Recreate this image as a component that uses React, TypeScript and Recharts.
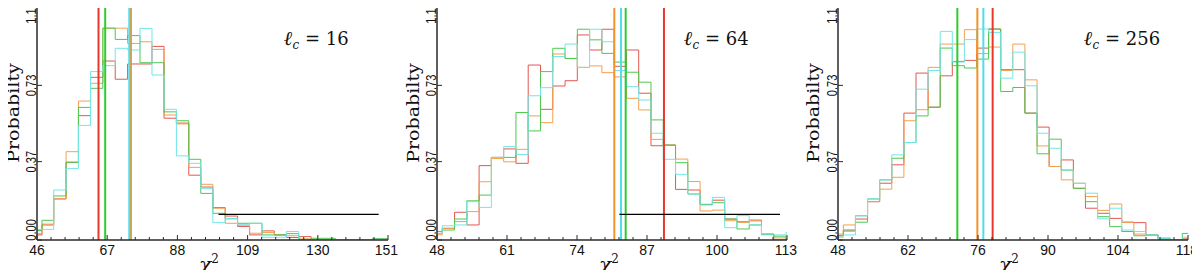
import React from "react";
import {
  ComposedChart,
  Line,
  XAxis,
  YAxis,
  ReferenceLine,
} from "recharts";

// bin edges (chi^2) and normalised counts per run
const EDGES_16 = [46, 47.5, 51.0, 54.7, 58.4, 62.0, 65.7, 69.4, 73.1, 76.8, 80.4, 84.0, 87.7, 91.4, 95.0, 98.6, 102.3, 106.0, 109.6, 113.3, 117.0, 120.6, 124.3, 128.0, 131.6, 135.3, 139.0, 142.6, 146.3, 150.0, 151];
const RED_16 = [0.024, 0.071, 0.194, 0.367, 0.587, 0.768, 0.845, 0.759, 0.831, 0.831, 0.914, 0.575, 0.552, 0.306, 0.25, 0.153, 0.113, 0.064, 0.024, 0.043, 0.024, 0.012, 0.016, 0, 0, 0, 0, 0, 0.006, 0.006];
const ORANGE_16 = [0.03, 0.075, 0.194, 0.417, 0.656, 0.74, 1.0, 1.0, 0.928, 0.936, 0.9, 0.59, 0.548, 0.343, 0.263, 0.15, 0.079, 0.07, 0.032, 0.035, 0.024, 0.02, 0.005, 0, 0, 0, 0, 0, 0.006, 0.006];
const GREEN_16 = [0.045, 0.093, 0.208, 0.367, 0.626, 0.716, 1.0, 0.947, 0.965, 0.837, 0.837, 0.605, 0.563, 0.381, 0.22, 0.126, 0.1, 0.079, 0.079, 0.024, 0.024, 0.03, 0.003, 0.008, 0.008, 0, 0, 0, 0.006, 0.006];
const CYAN_16 = [0.05, 0.05, 0.236, 0.338, 0.541, 0.795, 0.823, 0.905, 0.897, 0.999, 0.779, 0.617, 0.397, 0.362, 0.244, 0.082, 0.102, 0.072, 0.079, 0.013, 0.013, 0.04, 0, 0, 0, 0, 0, 0, 0.004, 0.004];

const EDGES_64 = [48, 48.98, 51.26, 53.54, 55.82, 58.1, 60.38, 62.66, 64.94, 67.22, 69.5, 71.78, 74.06, 76.34, 78.62, 80.9, 83.18, 85.46, 87.74, 90.02, 92.3, 94.58, 96.86, 99.14, 101.42, 103.7, 105.98, 108.26, 110.54, 112.82, 113];
const RED_64 = [0.031, 0.055, 0.131, 0.071, 0.351, 0.39, 0.43, 0.362, 0.826, 0.617, 0.727, 0.752, 0.968, 0.897, 0.995, 0.82, 0.897, 0.693, 0.445, 0.448, 0.239, 0.236, 0.168, 0.188, 0.099, 0.086, 0.094, 0.028, 0, 0];
const ORANGE_64 = [0.025, 0.055, 0.087, 0.134, 0.275, 0.385, 0.369, 0.428, 0.586, 0.554, 0.878, 0.857, 0.815, 0.822, 0.79, 0.77, 0.669, 0.614, 0.475, 0.448, 0.382, 0.276, 0.137, 0.141, 0.091, 0.083, 0.09, 0.028, 0.01, 0];
const GREEN_64 = [0.04, 0.047, 0.099, 0.185, 0.212, 0.39, 0.39, 0.602, 0.515, 0.795, 0.905, 0.857, 0.995, 0.945, 0.881, 0.84, 0.792, 0.745, 0.567, 0.448, 0.365, 0.217, 0.168, 0.176, 0.099, 0.052, 0.071, 0.025, 0.018, 0];
const CYAN_64 = [0.031, 0.067, 0.071, 0.181, 0.154, 0.39, 0.441, 0.404, 0.681, 0.719, 0.866, 0.925, 0.815, 0.995, 0.936, 0.8, 0.724, 0.661, 0.504, 0.381, 0.31, 0.217, 0.165, 0.201, 0.058, 0.115, 0.071, 0.028, 0.024, 0.036];

const EDGES_256 = [48, 49.07, 51.49, 53.91, 56.33, 58.75, 61.18, 63.6, 66.02, 68.44, 70.86, 73.28, 75.7, 78.12, 80.54, 82.96, 85.38, 87.81, 90.23, 92.65, 95.07, 97.49, 99.91, 102.33, 104.75, 107.17, 109.59, 112.02, 114.44, 116.86, 118];
const RED_256 = [0.02, 0.047, 0.099, 0.181, 0.268, 0.355, 0.599, 0.788, 0.627, 0.775, 0.843, 0.848, 0.906, 0.996, 0.804, 0.804, 0.599, 0.533, 0.347, 0.378, 0.244, 0.15, 0.126, 0.102, 0.084, 0.082, 0.024, 0.008, 0, 0.005];
const ORANGE_256 = [0.028, 0.071, 0.115, 0.181, 0.24, 0.296, 0.563, 0.615, 0.815, 0.925, 0.925, 0.993, 0.88, 0.911, 0.8, 0.925, 0.756, 0.444, 0.347, 0.284, 0.268, 0.205, 0.14, 0.17, 0.084, 0.028, 0.024, 0.003, 0, 0.005];
const GREEN_256 = [0.02, 0.042, 0.084, 0.194, 0.284, 0.386, 0.46, 0.586, 0.627, 0.906, 0.823, 0.812, 0.854, 0.996, 0.701, 0.72, 0.599, 0.407, 0.476, 0.33, 0.244, 0.181, 0.11, 0.063, 0.04, 0.02, 0.024, 0.008, 0, 0.031];
const CYAN_256 = [0.013, 0.024, 0.113, 0.194, 0.284, 0.402, 0.46, 0.712, 0.8, 0.985, 0.84, 0.946, 0.996, 0.98, 0.764, 0.887, 0.728, 0.504, 0.433, 0.331, 0.268, 0.221, 0.1, 0.15, 0.047, 0.04, 0.024, 0.008, 0, 0.013];

// mean chi^2 markers, order: red, orange, green, cyan
const MEANS_16 = [64.4, 74.1, 66.4, 73.6];
const MEANS_64 = [90.15, 80.93, 83.04, 82.17];
const MEANS_256 = [78.93, 75.87, 71.87, 77.07];

// black horizontal bar: [x start, x end, y]
const BAR_16 = [100.3, 148.2, 0.121];
const BAR_64 = [81.86, 111.7, 0.121];

const XTICKS_16 = [46, 67, 88, 109, 130, 151];
const XTICKS_64 = [48, 61, 74, 87, 100, 113];
const XTICKS_256 = [48, 62, 76, 90, 104, 118];
const YTICKS = [0, 0.37, 0.73, 1.1];

const LABELS = ["16", "64", "256"];

const HIST_COLORS = { red: "#e4574f", orange: "#f3a050", green: "#4fc84f", cyan: "#72e6e8" };
const MEAN_COLORS = ["#e8382c", "#f5922a", "#2ccc2c", "#4fdcec"];
const AXIS = "#2a2a2a";
const TICK_FONT = "'Liberation Sans', Arial, sans-serif";
const SERIF = "'DejaVu Serif', serif";

function buildRows(edges: number[], red: number[], orange: number[], green: number[], cyan: number[]) {
  return edges.map((x, i) => {
    const k = Math.min(i, red.length - 1);
    return { x, red: red[k], orange: orange[k], green: green[k], cyan: cyan[k] };
  });
}

function withMinors(majors: number[]) {
  const out: number[] = [];
  for (let i = 0; i < majors.length; i++) {
    out.push(majors[i]);
    if (i < majors.length - 1) {
      const step = (majors[i + 1] - majors[i]) / 5;
      for (let j = 1; j < 5; j++) out.push(majors[i] + step * j);
    }
  }
  return out;
}

const PANELS = [
  { rows: buildRows(EDGES_16, RED_16, ORANGE_16, GREEN_16, CYAN_16), xticks: XTICKS_16, means: MEANS_16, bar: BAR_16, label: LABELS[0], left: 7, right: 12 },
  { rows: buildRows(EDGES_64, RED_64, ORANGE_64, GREEN_64, CYAN_64), xticks: XTICKS_64, means: MEANS_64, bar: BAR_64, label: LABELS[1], left: 7, right: 13 },
  { rows: buildRows(EDGES_256, RED_256, ORANGE_256, GREEN_256, CYAN_256), xticks: XTICKS_256, means: MEANS_256, bar: null, label: LABELS[2], left: 8, right: 12 },
];

function Panel({ p }: { p: (typeof PANELS)[number] }) {
  const xs = p.xticks;
  const domain: [number, number] = [xs[0], xs[xs.length - 1]];
  const all = withMinors(xs);
  const isMajor = (v: number) => xs.includes(v);
  const last = xs[xs.length - 1];

  const bottomTick = (props: any) => {
    const { x, y, payload } = props;
    const major = isMajor(payload.value);
    const isLast = payload.value === last;
    return (
      <g>
        <line x1={x} x2={x} y1={y} y2={y - (major ? 5 : 3)} stroke={AXIS} />
        {major && (
          <text
            x={isLast ? x + 10 : x}
            y={y + 15}
            textAnchor={isLast ? "end" : "middle"}
            fontSize={14}
            fontFamily={TICK_FONT}
            fill="#111"
          >
            {payload.value}
          </text>
        )}
      </g>
    );
  };
  const topTick = (props: any) => {
    const { x, y, payload } = props;
    const major = isMajor(payload.value);
    return <line x1={x} x2={x} y1={y} y2={y + (major ? 5 : 3)} stroke={AXIS} />;
  };
  const leftTick = (props: any) => {
    const { x, y, payload } = props;
    const v = payload.value as number;
    const ly = v === 0 ? y - 10 : v > 1 ? y + 6 : y;
    return (
      <g>
        <line x1={x} x2={x + 5} y1={y} y2={y} stroke={AXIS} />
        <text
          x={0}
          y={0}
          textAnchor="middle"
          fontSize={15}
          fontFamily={TICK_FONT}
          fill="#111"
          transform={`translate(${x - 1}, ${ly}) rotate(-90) scale(0.74, 1)`}
        >
          {v.toFixed(2)}
        </text>
      </g>
    );
  };
  const rightTick = (props: any) => {
    const { x, y } = props;
    return <line x1={x} x2={x - 5} y1={y} y2={y} stroke={AXIS} />;
  };

  return (
    <ComposedChart
      width={400}
      height={278}
      data={p.rows}
      margin={{ top: 7, right: p.right, bottom: 8, left: p.left }}
      style={{ overflow: "visible" }}
    >
      <XAxis
        dataKey="x"
        type="number"
        domain={domain}
        allowDataOverflow
        ticks={all}
        interval={0}
        height={30}
        tickSize={0}
        tickMargin={0}
        tickLine={false}
        axisLine={{ stroke: AXIS, strokeWidth: 1.5 }}
        tick={bottomTick}
      />
      <XAxis
        xAxisId="top"
        orientation="top"
        type="number"
        domain={domain}
        allowDataOverflow
        ticks={all}
        interval={0}
        height={0}
        tickSize={0}
        tickMargin={0}
        tickLine={false}
        axisLine={{ stroke: AXIS, strokeWidth: 1.5 }}
        tick={topTick}
      />
      <YAxis
        type="number"
        domain={[0, 1.1]}
        allowDataOverflow
        ticks={YTICKS}
        interval={0}
        width={30}
        tickSize={0}
        tickMargin={0}
        tickLine={false}
        axisLine={{ stroke: AXIS, strokeWidth: 1.5 }}
        tick={leftTick}
      />
      <YAxis
        yAxisId="right"
        orientation="right"
        type="number"
        domain={[0, 1.1]}
        allowDataOverflow
        ticks={YTICKS}
        interval={0}
        width={0}
        tickSize={0}
        tickMargin={0}
        tickLine={false}
        axisLine={{ stroke: AXIS, strokeWidth: 1.5 }}
        tick={rightTick}
      />
      <Line type="stepAfter" dataKey="red" stroke={HIST_COLORS.red} strokeWidth={1} dot={false} activeDot={false} isAnimationActive={false} />
      <Line type="stepAfter" dataKey="orange" stroke={HIST_COLORS.orange} strokeWidth={1} dot={false} activeDot={false} isAnimationActive={false} />
      <Line type="stepAfter" dataKey="green" stroke={HIST_COLORS.green} strokeWidth={1} dot={false} activeDot={false} isAnimationActive={false} />
      <Line type="stepAfter" dataKey="cyan" stroke={HIST_COLORS.cyan} strokeWidth={1} dot={false} activeDot={false} isAnimationActive={false} />
      {p.means.map((m, i) => (
        <ReferenceLine key={i} x={m} stroke={MEAN_COLORS[i]} strokeWidth={2} />
      ))}
      {p.bar && (
        <ReferenceLine
          segment={[
            { x: p.bar[0], y: p.bar[2] },
            { x: p.bar[1], y: p.bar[2] },
          ]}
          stroke="#000"
          strokeWidth={1.3}
        />
      )}
    </ComposedChart>
  );
}

export default function App() {
  return (
    <div style={{ position: "relative", width: 1200, height: 278, margin: -8, background: "#fff", overflow: "hidden" }}>
      {PANELS.map((p, i) => (
        <div key={i} style={{ position: "absolute", left: i * 400, top: 0, width: 400, height: 278 }}>
          <Panel p={p} />
        </div>
      ))}
      <svg width={1200} height={278} style={{ position: "absolute", left: 0, top: 0, pointerEvents: "none" }}>
        {PANELS.map((p, i) => {
          const ox = i * 400;
          return (
            <g key={i}>
              <text
                x={0}
                y={0}
                textAnchor="middle"
                fontFamily={SERIF}
                fontSize={17}
                fill="#111"
                transform={`translate(${ox + 19}, 113) rotate(-90) scale(1.12, 1)`}
              >
                Probabilty
              </text>
              <text x={ox + 209} y={272} textAnchor="middle" fontFamily={SERIF} fontSize={20} fill="#111">
                <tspan fontStyle="italic">χ</tspan>
                <tspan fontSize={12} dy={-9}>2</tspan>
              </text>
              <text x={ox + 284} y={45} fontFamily={SERIF} fontSize={18} fill="#111">
                <tspan fontStyle="italic" fontWeight="bold" fontSize={20}>ℓ</tspan>
                <tspan fontStyle="italic" fontSize={12} dy={4}>c</tspan>
                <tspan dy={-4}>{" = " + p.label}</tspan>
              </text>
            </g>
          );
        })}
      </svg>
    </div>
  );
}
